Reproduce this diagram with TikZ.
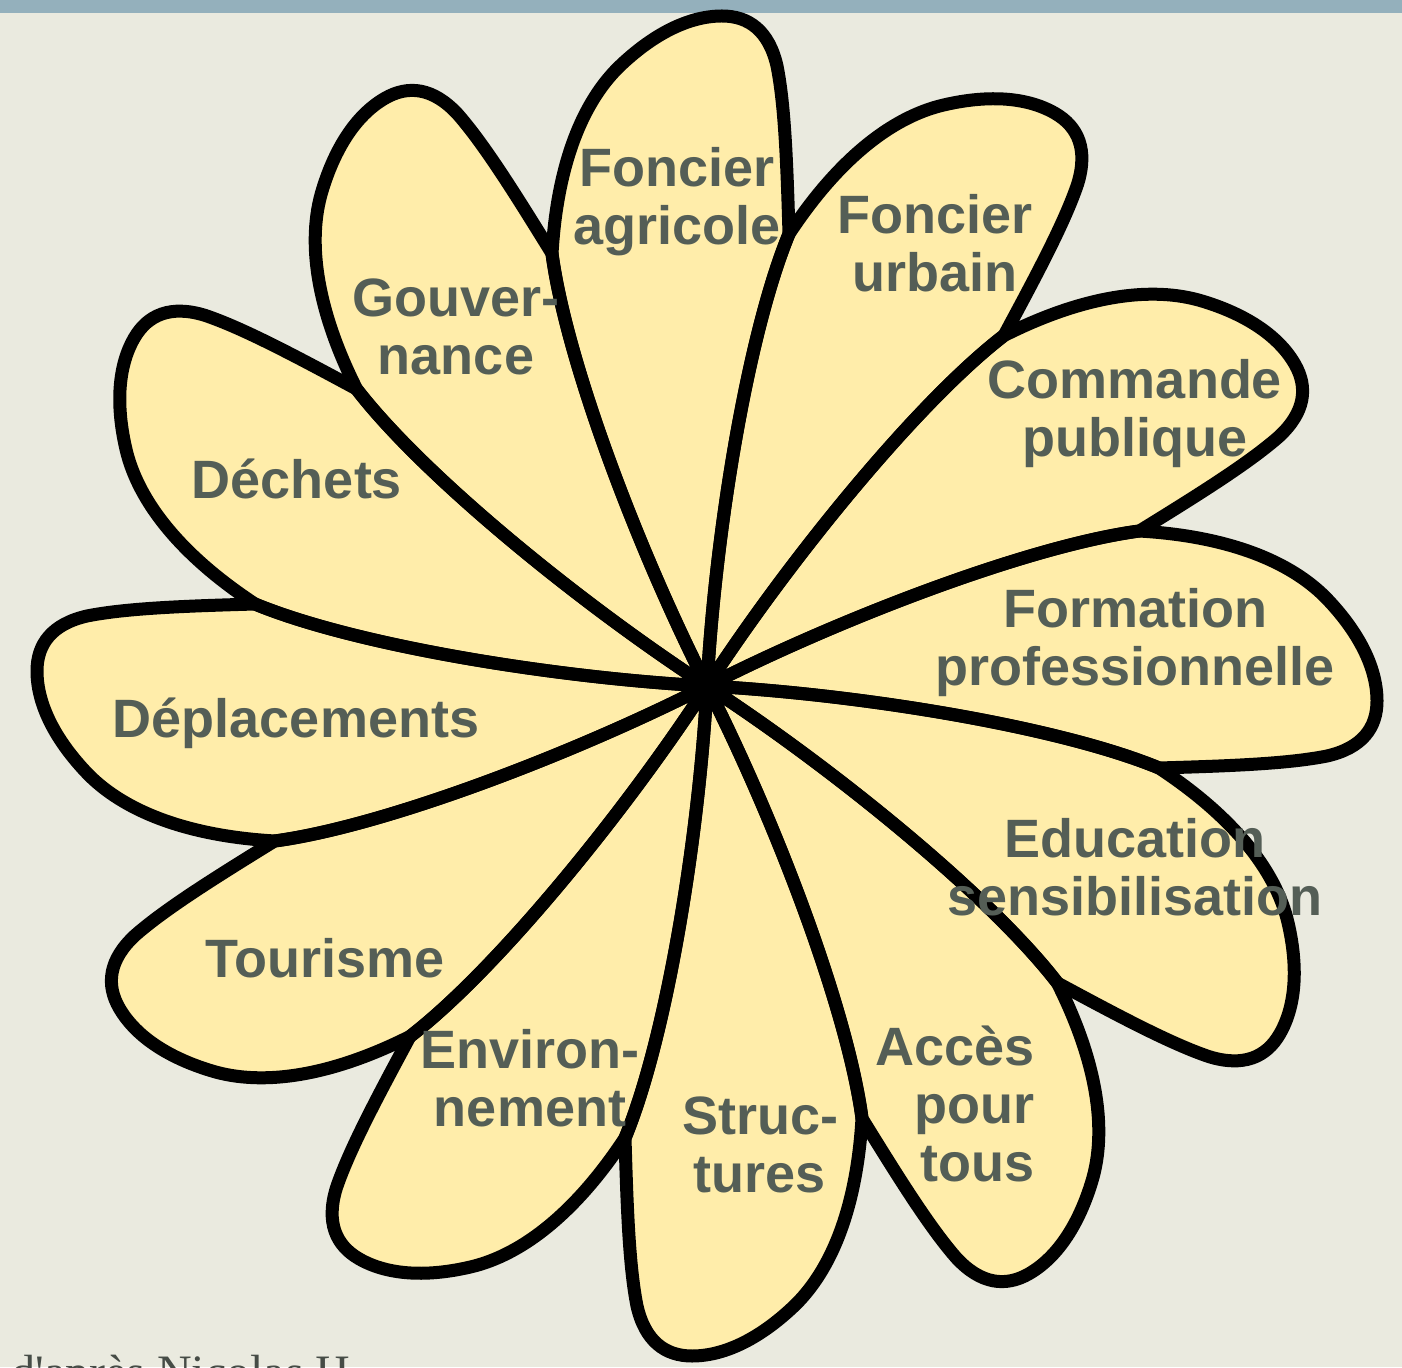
\documentclass[tikz,border=0pt]{standalone}
\usepackage{fontspec}
\setmainfont{Liberation Sans}
\newfontfamily\creditfont{Liberation Serif}
\usetikzlibrary{positioning}

\definecolor{paper}{RGB}{234,234,223}
\definecolor{topband}{RGB}{148,176,188}
\definecolor{petalyellow}{RGB}{255,237,170}
\definecolor{labelgrey}{RGB}{84,94,86}
\definecolor{creditgrey}{RGB}{70,76,70}

% one petal, pointing up, centre of the flower at the origin
\newcommand{\petalpath}{(0,0) .. controls (8,150) and (40,350) .. (82,452)
  .. controls (80,520) and (78,580) .. (70,620)
  .. controls (62,655) and (42,670) .. (15,670)
  .. controls (-20,670) and (-55,650) .. (-85,622)
  .. controls (-125,585) and (-150,520) .. (-155,432)
  .. controls (-140.4,323.1) and (-68.1,133.9) .. cycle}

\begin{document}
\begin{tikzpicture}
    [x=0.5pt, y=0.5pt,
     petalfill/.style={fill=petalyellow},
     petaledge/.style={draw=black, line width=6.5pt, line join=round},
     petaltext/.style={text=labelgrey, font=\bfseries\fontsize{27}{29}\selectfont,
                       align=center, inner sep=0pt}]
    \fill [paper] (0,0) rectangle (1402,1367);
    \fill [topband] (0,1354) rectangle (1402,1367);
    \useasboundingbox (0,0) rectangle (1402,1367);

    \coordinate (heart) at (707,681);
    \foreach \k in {0,...,11}
        \fill [petalfill, shift={(heart)}, rotate=-30*\k] \petalpath;
    \foreach \k in {0,...,11}
        \draw [petaledge, shift={(heart)}, rotate=-30*\k] \petalpath;

    \node [petaltext] (agricole) at (677,1165) {Foncier\\agricole};
    \node [petaltext] (urbain) at (935,1124) {Foncier\\urbain};
    \node [petaltext] (commande) at (1135,953) {Commande\\publique};
    \node [petaltext] (formation) at (1135,724) {Formation\\professionnelle};
    \node [petaltext] (education) at (1135,500) {Education\\sensibilisation};
    \node [petaltext, align=right, anchor=east] (acces) at (1035,263) {Accès\\pour\\tous};
    \node [petaltext] (structures) at (760,222) {Struc-\\tures};
    \node [petaltext] (environnement) at (530,289) {Environ-\\nement};
    \node [petaltext] (tourisme) at (325,409) {Tourisme};
    \node [petaltext] (deplacements) at (296,644) {Déplacements};
    \node [petaltext] (dechets) at (297,888) {Déchets};
    \node [petaltext] (gouvernance) at (456,1040) {Gouver-\\nance};

    \node [anchor=base west, inner sep=0pt, text=creditgrey,
           font=\creditfont\fontsize{24}{24}\selectfont] (credit) at (11,-21) {d'après Nicolas H};
\end{tikzpicture}
\end{document}
